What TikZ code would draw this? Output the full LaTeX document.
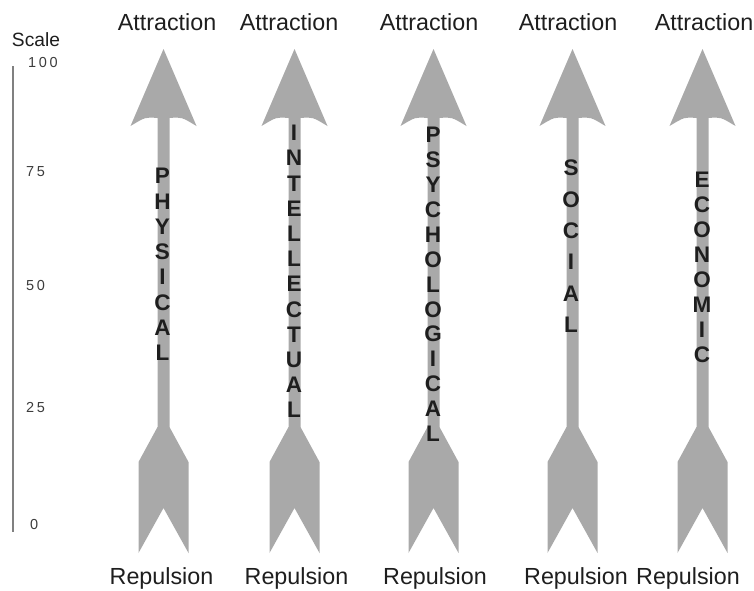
\documentclass[tikz,border=0pt]{standalone}
\usepackage{fontspec}
\setmainfont{Liberation Sans}
\newfontfamily\numfont[LetterSpace=18]{Liberation Sans}
\definecolor{ink}{HTML}{1E1E1E}
\definecolor{shaft}{HTML}{A9A9A9}
\definecolor{rule}{HTML}{808080}
\definecolor{ink2}{HTML}{3C3C3C}
\tikzset{
  pole/.style={fill=shaft},
  ends/.style={font=\fontsize{23.3}{28}\selectfont,text=ink,inner sep=0pt,anchor=base},
  ltr/.style={font=\fontsize{22.5}{25}\selectfont\bfseries,text=ink,inner sep=0pt},
  tick/.style={font=\numfont\fontsize{14.5}{17}\selectfont,text=ink2,inner sep=0pt,anchor=west},
}
\begin{document}
\begin{tikzpicture}[x=1pt,y=-1pt]
  \useasboundingbox (0,0) rectangle (754,590);
  \foreach \c in {163.5,294.5,433.5,572.5,702.5}
    \fill[pole] (\c,49) -- (\c+33,126) .. controls (\c+18,117) .. (\c+6,118) -- (\c+6,427) -- (\c+25,462) -- (\c+25,553)
      -- (\c,508) -- (\c-25,553) -- (\c-25,462) -- (\c-6,427) -- (\c-6,118) .. controls (\c-18,117) .. (\c-33,126) -- cycle;
  \foreach \c/\ty/\dy/\word [count=\k] in {162.5/176/25.3/{P,H,Y,S,I,C,A,L},294/133/25.2/{I,N,T,E,L,L,E,C,T,U,A,L},
      433/135/24.9/{P,S,Y,C,H,O,L,O,G,I,C,A,L},571/168/31.4/{S,O,C,I,A,L},702/180/25/{E,C,O,N,O,M,I,C}}
    \foreach \l [count=\i] in \word
      \node[ltr] (w\k-\i) at (\c,{\ty+\dy*(\i-1)}) {\l};
  \foreach \x [count=\k] in {167,289,429,568,704} \node[ends] (att\k) at (\x,30) {Attraction};
  \foreach \x [count=\k] in {161.5,296.5,435,576,688} \node[ends] (rep\k) at (\x,584) {Repulsion};
  \node[ends,font=\fontsize{19.2}{23}\selectfont] (scale) at (36,46.7) {Scale};
  \draw[rule,line width=2.5pt] (13,66) -- (13,532);
  \foreach \v/\x/\y in {100/28/63,75/26/172,50/26/285,25/26/407,0/30/524}
    \node[tick] (s\v) at (\x,\y) {\v};
\end{tikzpicture}
\end{document}
